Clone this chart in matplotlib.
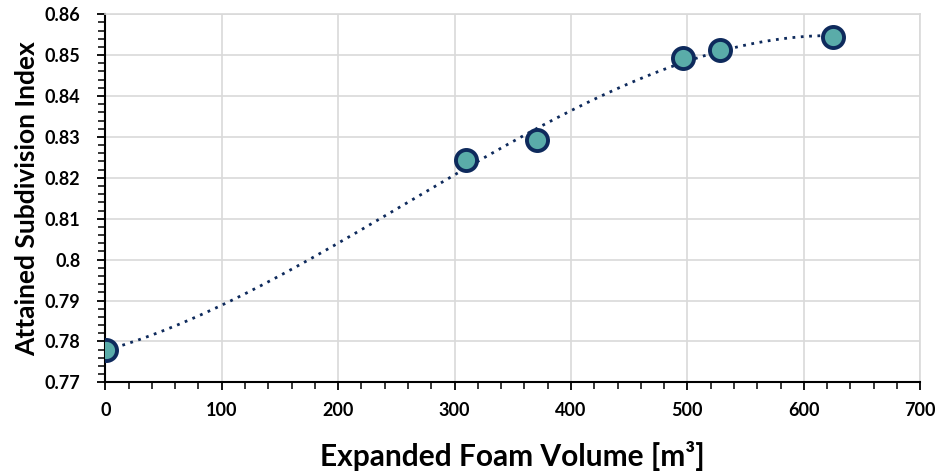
import numpy as np
import matplotlib.pyplot as plt
from matplotlib.ticker import MultipleLocator

# data
foam_volume = [1, 310, 371, 496, 528, 625]
subdiv_index = [0.7778, 0.8243, 0.8292, 0.8493, 0.8512, 0.8544]

xticks = [0, 100, 200, 300, 400, 500, 600, 700]
yticks = [0.77, 0.78, 0.79, 0.80, 0.81, 0.82, 0.83, 0.84, 0.85, 0.86]
ytick_labels = ['0.77', '0.78', '0.79', '0.8', '0.81', '0.82', '0.83', '0.84', '0.85', '0.86']

plt.rcParams['font.family'] = ['Lato', 'DejaVu Sans']
plt.rcParams['font.weight'] = 'bold'

fig = plt.figure(figsize=(9.4, 4.72), dpi=100)
ax = fig.add_axes([0.112, 0.19, 0.867, 0.78])

# polynomial trendline (order 3), as in the spreadsheet
coef = np.polyfit(foam_volume, subdiv_index, 3)
xs = np.linspace(min(foam_volume), max(foam_volume), 300)
ax.plot(xs, np.polyval(coef, xs), linestyle=(0, (1, 2)), color='#0e2a5c',
        linewidth=2, zorder=3)

ax.scatter(foam_volume, subdiv_index, s=230, facecolor='#5aaca9',
           edgecolor='#0e2a5c', linewidth=2.8, zorder=4)

ax.set_xlim(0, 700)
ax.set_ylim(0.77, 0.86)
ax.set_xticks(xticks)
ax.set_yticks(yticks)
ax.set_yticklabels(ytick_labels)
ax.xaxis.set_minor_locator(MultipleLocator(20))
ax.yaxis.set_minor_locator(MultipleLocator(0.002))
ax.tick_params(which='major', length=6, width=1.3, labelsize=13)
ax.tick_params(axis='x', which='major', pad=8)
ax.tick_params(axis='y', which='major', pad=12)
ax.tick_params(which='minor', length=5, width=1.1)

ax.grid(True, color='#d9d9d9', linewidth=1.2)
ax.set_axisbelow(True)
for s in ['top', 'right']:
    ax.spines[s].set_color('#d9d9d9')
    ax.spines[s].set_linewidth(1.2)
for s in ['left', 'bottom']:
    ax.spines[s].set_color('black')
    ax.spines[s].set_linewidth(1.5)

ax.set_xlabel('Expanded Foam Volume [m³]', fontsize=21.5, fontweight='bold', labelpad=16)
ax.set_ylabel('Attained Subdivision Index', fontsize=19, fontweight='bold', labelpad=4)

fig.savefig('out.png', dpi=100)
